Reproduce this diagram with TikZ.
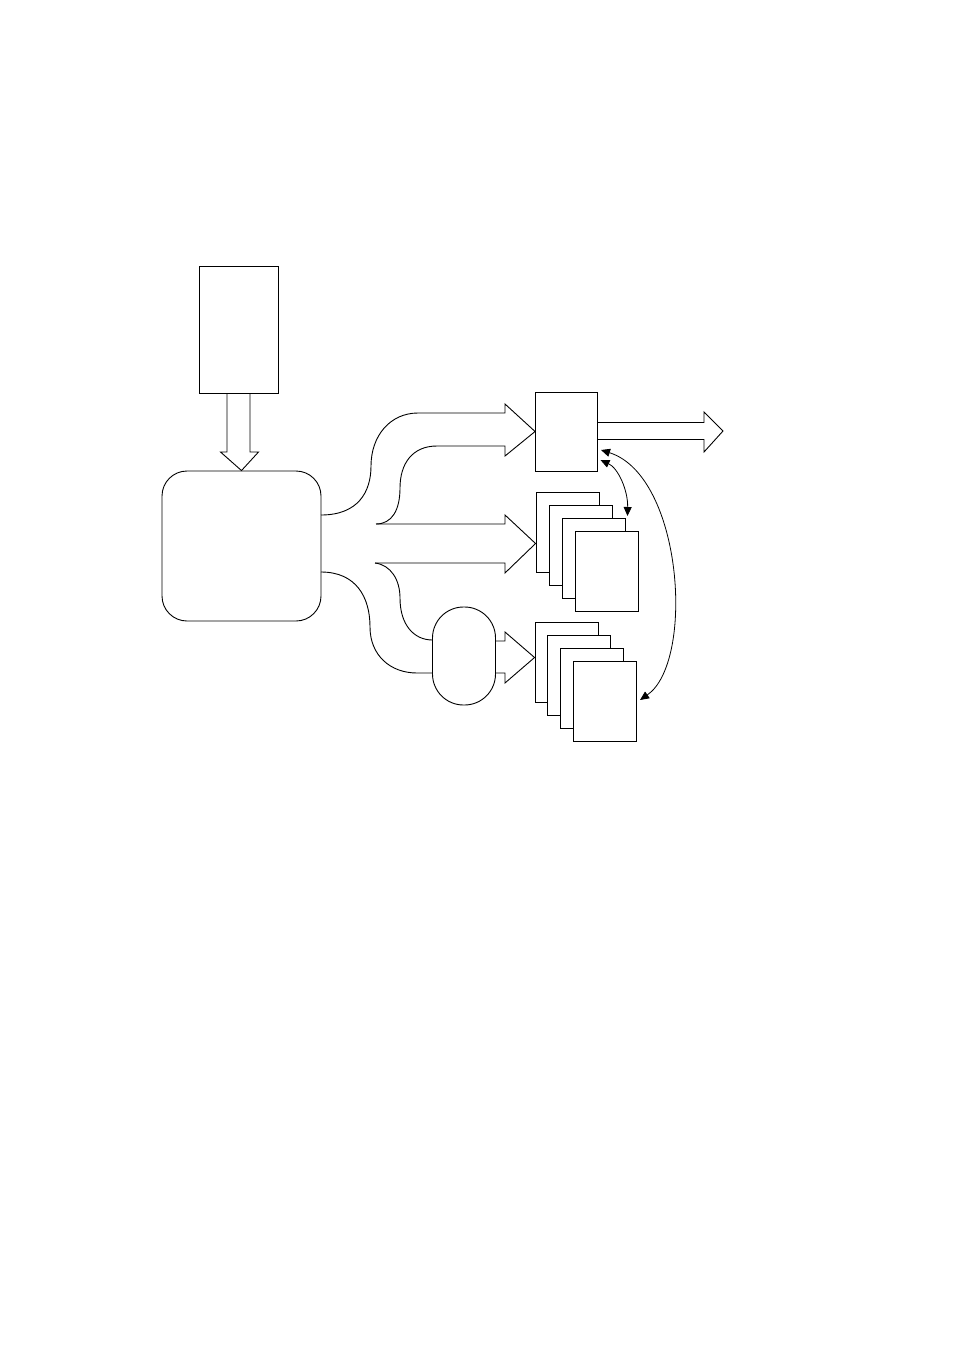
\documentclass[tikz,border=0pt]{standalone}
\usetikzlibrary{arrows.meta,calc}
\begin{document}
\begin{tikzpicture}[x=1pt,y=-1pt,line width=0.9pt,
  box/.style={draw,rectangle,inner sep=0pt,fill=white},
  sheet/.style={box,minimum width=63pt,minimum height=80pt},
  blockarrow/.style={draw,line join=miter},
  twoway/.style={{Triangle[length=9pt,width=8pt]}-{Triangle[length=9pt,width=8pt]},line width=0.8pt}]
\useasboundingbox (0,0) rectangle (954,1351);
% main boxes
\node[box,minimum width=79pt,minimum height=127pt] (src) at (238.5,329.5) {};
\node[box,rounded corners=25pt,minimum width=159pt,minimum height=150pt] (proc) at (241.5,546) {};
\node[box,rounded corners=31pt,minimum width=63pt,minimum height=98pt] (pill) at (464,656) {};
\node[box,minimum width=62pt,minimum height=79pt] (out) at (566.5,431.5) {};
% stack 1
\node[sheet] (sa1) at (567.5,532.3) {};
\node[sheet] (sa2) at (580.5,545.2) {};
\node[sheet] (sa3) at (593.5,558.1) {};
\node[sheet] (sa4) at (606.5,571) {};
% stack 2
\node[sheet] (sb1) at (566.5,662.3) {};
\node[sheet] (sb2) at (579.2,675.2) {};
\node[sheet] (sb3) at (591.9,688.1) {};
\node[sheet] (sb4) at (604.6,701) {};
% down block arrow from src to proc
\draw[blockarrow] ($(src.south)+(-11.5,0)$) -- (227,452) -- (220.5,452) -- (proc.north) -- (258.5,452) -- (250,452) -- ($(src.south)+(11.5,0)$);
% top curved block arrow
\draw[blockarrow] (321,515) .. controls (358,515) and (371,492) .. (371,466)
  .. controls (371,436) and (390,413) .. (418,413) -- (505,413) -- (505,404) -- (out.west)
  -- (505,456) -- (505,446) -- (437,446)
  .. controls (412,446) and (400,464) .. (400,488)
  .. controls (400,510) and (392,524) .. (376,524);
% middle block arrow
\draw[blockarrow] (376,524) -- (505,524) -- (505,515) -- (sa1.west |- 0,543.5) -- (505,573) -- (505,563) -- (375,563);
% bottom curved arrow to pill
\draw[blockarrow] (375,563) .. controls (391,565) and (400,580) .. (400,598)
  .. controls (400,625) and (414,640) .. (432.5,640);
\draw[blockarrow] (321,572) .. controls (356,572) and (370,597) .. (370,627)
  .. controls (370,655) and (390,673) .. (417,673) -- (432.5,673);
% pill to stack 2
\draw[blockarrow] (495.5,641) -- (505,641) -- (505,632) -- (sb1.west |- 0,657.5) -- (505,683) -- (505,673) -- (495.5,673);
% output block arrow
\draw[blockarrow] (598,422.5) -- (704,422.5) -- (704,412) -- (723,431) -- (704,452) -- (704,439.5) -- (598,439.5);
% two-way arrows
\coordinate (a1) at (600.5,460);
\coordinate (a2) at (627.5,516);
\coordinate (b1) at (601,450);
\coordinate (b2) at (640,700);
\draw[twoway] (a1) .. controls (618,468) and (628,490) .. (a2);
\draw[twoway] (b1) .. controls (683,476) and (695,662) .. (b2);
\end{tikzpicture}
\end{document}
